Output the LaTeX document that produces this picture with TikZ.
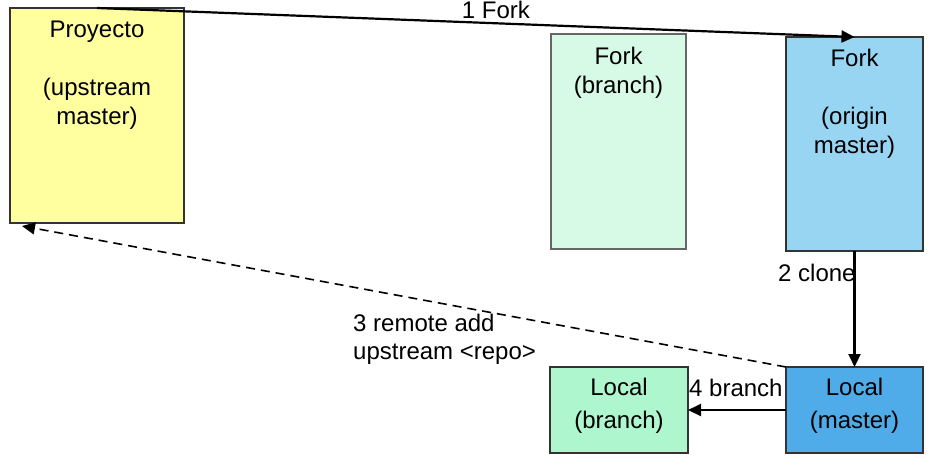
\documentclass[tikz,border=0pt]{standalone}
\usepackage{fontspec}
\setmainfont{Liberation Sans}
\usetikzlibrary{arrows.meta}
\definecolor{cproy}{RGB}{255,255,160}
\definecolor{cforkb}{RGB}{214,250,230}
\definecolor{cforko}{RGB}{152,213,242}
\definecolor{clocb}{RGB}{174,247,206}
\definecolor{clocm}{RGB}{80,172,233}
\tikzset{
  box/.style={draw=black!80, line width=1.2pt, anchor=north west, inner sep=0pt, outer sep=0pt},
  txt/.style={font=\fontsize{24}{29}\selectfont, align=center, anchor=north, inner sep=0pt},
  ltxt/.style={font=\fontsize{24}{33}\selectfont, align=center, anchor=north, inner sep=0pt},
  lbl/.style={font=\fontsize{24}{28}\selectfont, inner sep=0pt},
  conn/.style={line width=2.2pt, -{Triangle[length=13pt,width=12pt]}},
}
\begin{document}
\begin{tikzpicture}[x=1pt,y=-1pt]
\useasboundingbox (0,0) rectangle (936,464);
% boxes
\node[box, fill=cproy, minimum width=174pt, minimum height=215pt] (proy) at (10,8) {};
\node[box, fill=cforkb, draw=black!60, minimum width=135pt, minimum height=215pt] (forkb) at (551,34) {};
\node[box, fill=cforko, minimum width=137pt, minimum height=214pt] (forko) at (786,37) {};
\node[box, fill=clocb, minimum width=138pt, minimum height=86pt] (locb) at (550,367) {};
\node[box, fill=clocm, minimum width=137pt, minimum height=86pt] (locm) at (786,367) {};
% box texts
\node[txt] (tproy) at (97,21) {Proyecto\\[29pt](upstream\\master)};
\node[txt] (tforkb) at (618.5,47) {Fork\\(branch)};
\node[txt] (tforko) at (854.5,49) {Fork\\[29pt](origin\\master)};
\node[ltxt] (tlocb) at (619,378) {Local\\(branch)};
\node[ltxt] (tlocm) at (854.5,378) {Local\\(master)};
% connectors
\draw[conn] (proy.north) -- (forko.north);
\draw[conn] (forko.south) -- (locm.north);
\coordinate (c3) at (22,226);
\draw[conn, line width=1.6pt, dash pattern=on 9pt off 6pt] (locm.north west) -- (c3);
\draw[conn] (locm.west) -- (locb.east);
% labels
\node[lbl, anchor=base] (l1) at (496,18) {1 Fork};
\node[lbl, anchor=base west] (l2) at (778,281) {2 clone};
\node[lbl, anchor=north west, align=left] (l3) at (353,314) {3 remote add\\upstream <repo>};
\node[lbl, anchor=base west] (l4) at (689,396) {4 branch};
\end{tikzpicture}
\end{document}
